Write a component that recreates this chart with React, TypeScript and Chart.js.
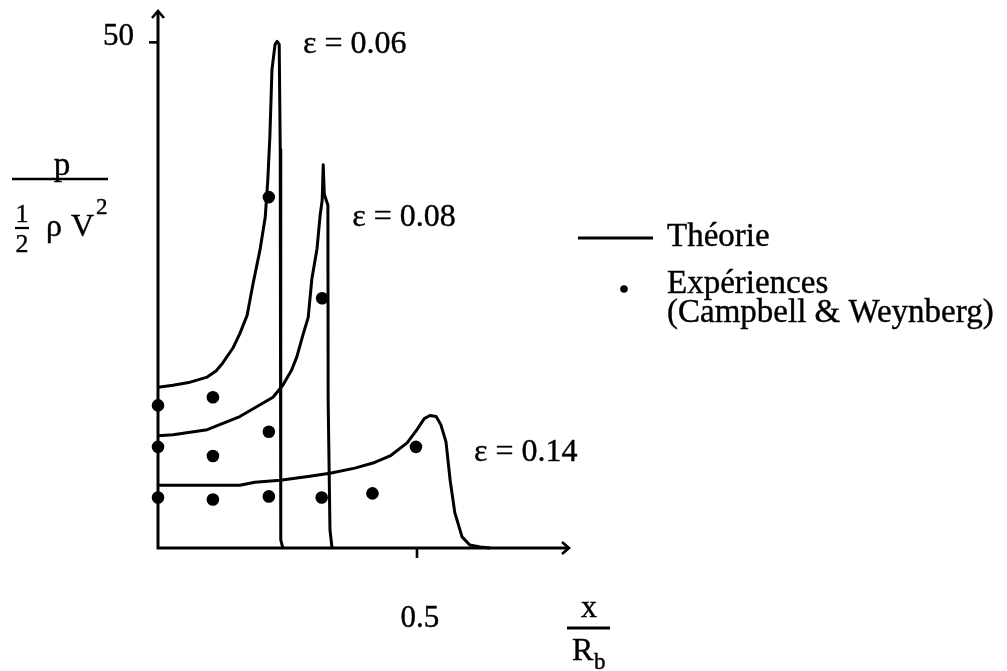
import React, { useEffect, useRef } from "react";
import { Chart, registerables } from "chart.js";

Chart.register(...registerables);

// Theory curves (x / R_b , p / (1/2 rho V^2))
const theory006X = [0, 0.029, 0.062, 0.095, 0.112, 0.125, 0.145, 0.158, 0.172, 0.183, 0.197, 0.207, 0.212, 0.216, 0.22, 0.226, 0.23, 0.234, 0.236, 0.237, 0.241];
const theory006Y = [15.9, 16.1, 16.4, 16.9, 17.5, 18.3, 19.8, 21.2, 23.0, 26.0, 29.5, 32.7, 36.4, 40.7, 47.3, 49.8, 50.1, 49.8, 39.4, 0.8, 0];

const theory008X = [0, 0.029, 0.095, 0.158, 0.222, 0.241, 0.258, 0.268, 0.28, 0.29, 0.297, 0.307, 0.313, 0.317, 0.319, 0.321, 0.328, 0.3285, 0.332, 0.336];
const theory008Y = [11.1, 11.2, 11.7, 13.0, 14.9, 16.1, 17.6, 18.9, 21.1, 22.8, 26.6, 29.6, 32.9, 34.4, 37.9, 35.0, 33.9, 14.6, 1.8, 0];

const theory014X = [0, 0.081, 0.158, 0.187, 0.236, 0.293, 0.332, 0.38, 0.415, 0.448, 0.481, 0.5, 0.514, 0.525, 0.537, 0.546, 0.556, 0.564, 0.573, 0.587, 0.602, 0.622, 0.641];
const theory014Y = [6.2, 6.2, 6.2, 6.5, 6.7, 7.1, 7.4, 7.9, 8.4, 9.1, 10.4, 11.7, 12.8, 13.1, 13.0, 12.2, 10.5, 6.7, 3.5, 1.1, 0.3, 0.1, 0];

// Experiments (Campbell & Weynberg)
const exp006X = [0, 0.106, 0.214];
const exp006Y = [14.1, 14.9, 34.7];
const exp008X = [0, 0.106, 0.214, 0.317];
const exp008Y = [10.0, 9.1, 11.5, 24.7];
const exp014X = [0, 0.106, 0.214, 0.316, 0.414, 0.498];
const exp014Y = [5.0, 4.8, 5.1, 5.0, 5.4, 10.0];

const curveLabels = ["ε = 0.06", "ε = 0.08", "ε = 0.14"];
const yTicks = [50];
const xTicks = [0.5];
const legendLabels = ["Théorie", "Expériences", "(Campbell & Weynberg)"];

const FONT = '"Liberation Serif", "Times New Roman", serif';

const zip = (xs: number[], ys: number[]) => xs.map((x, i) => ({ x, y: ys[i] }));

function txt(ctx: CanvasRenderingContext2D, s: string, x: number, y: number) {
  ctx.fillText(s, x, y);
  ctx.strokeText(s, x, y);
}

const decor = {
  id: "decor",
  afterDatasetsDraw(chart: any) {
    const { ctx, chartArea: a, scales } = chart;
    const xs = scales.x;
    const ys = scales.y;
    const x0 = xs.getPixelForValue(0);
    const y0 = ys.getPixelForValue(0);
    ctx.save();
    ctx.strokeStyle = "#000";
    ctx.fillStyle = "#000";
    ctx.lineWidth = 3;
    ctx.lineCap = "butt";
    ctx.lineJoin = "miter";

    // axes
    ctx.beginPath();
    ctx.moveTo(x0, y0 + 1.5);
    ctx.lineTo(x0, a.top + 1);
    ctx.moveTo(x0 - 1.5, y0);
    ctx.lineTo(a.right - 1, y0);
    ctx.stroke();
    // arrows
    ctx.lineWidth = 2.6;
    ctx.beginPath();
    ctx.moveTo(x0 - 6, a.top + 8);
    ctx.lineTo(x0, a.top + 1);
    ctx.lineTo(x0 + 6, a.top + 8);
    ctx.moveTo(a.right - 8, y0 - 6);
    ctx.lineTo(a.right - 1, y0);
    ctx.lineTo(a.right - 8, y0 + 6);
    ctx.stroke();

    // ticks
    ctx.lineWidth = 2.6;
    yTicks.forEach((v) => {
      const py = ys.getPixelForValue(v);
      ctx.beginPath();
      ctx.moveTo(x0 - 9, py);
      ctx.lineTo(x0, py);
      ctx.stroke();
    });
    xTicks.forEach((v) => {
      const px = xs.getPixelForValue(v);
      ctx.beginPath();
      ctx.moveTo(px, y0);
      ctx.lineTo(px, y0 + 10);
      ctx.stroke();
    });

    ctx.lineWidth = 0.4;
    ctx.textBaseline = "alphabetic";
    ctx.font = `31px ${FONT}`;
    yTicks.forEach((v) => {
      ctx.textAlign = "right";
      txt(ctx, String(v), x0 - 24, ys.getPixelForValue(v) + 3);
    });
    xTicks.forEach((v) => {
      ctx.textAlign = "center";
      txt(ctx, String(v), xs.getPixelForValue(v) + 3, y0 + 79);
    });

    // curve labels
    const labelPos = [
      [0.28, 48.9],
      [0.375, 31.8],
      [0.61, 8.6],
    ];
    ctx.textAlign = "left";
    ctx.font = `32px ${FONT}`;
    curveLabels.forEach((t, i) => {
      txt(ctx, t, xs.getPixelForValue(labelPos[i][0]), ys.getPixelForValue(labelPos[i][1]));
    });

    // y axis title: p / (1/2 rho V^2)
    ctx.lineWidth = 2.6;
    ctx.beginPath();
    ctx.moveTo(12, 179);
    ctx.lineTo(108, 179);
    ctx.stroke();
    ctx.lineWidth = 0.4;
    ctx.font = `33px ${FONT}`;
    ctx.textAlign = "center";
    txt(ctx, "p", 62, 175);
    ctx.font = `26px ${FONT}`;
    txt(ctx, "1", 22, 222);
    ctx.beginPath();
    ctx.lineWidth = 2.2;
    ctx.moveTo(15, 228);
    ctx.lineTo(29, 228);
    ctx.stroke();
    ctx.lineWidth = 0.4;
    txt(ctx, "2", 22, 252);
    ctx.textAlign = "left";
    ctx.font = `32px ${FONT}`;
    txt(ctx, "ρ", 46, 236);
    txt(ctx, "V", 71, 236);
    ctx.font = `23px ${FONT}`;
    txt(ctx, "2", 96, 214);

    // x axis title: x / R_b
    ctx.lineWidth = 3;
    ctx.beginPath();
    ctx.moveTo(567, 628);
    ctx.lineTo(610, 628);
    ctx.stroke();
    ctx.lineWidth = 0.4;
    ctx.textAlign = "center";
    ctx.font = `32px ${FONT}`;
    txt(ctx, "x", 589, 617);
    ctx.textAlign = "left";
    txt(ctx, "R", 572, 660);
    ctx.font = `23px ${FONT}`;
    txt(ctx, "b", 594, 669);

    // legend
    ctx.lineWidth = 3;
    ctx.beginPath();
    ctx.moveTo(578, 238);
    ctx.lineTo(653, 238);
    ctx.stroke();
    ctx.beginPath();
    ctx.arc(624, 289, 3.8, 0, Math.PI * 2);
    ctx.fill();
    ctx.lineWidth = 0.4;
    ctx.font = `33px ${FONT}`;
    ctx.textAlign = "left";
    txt(ctx, legendLabels[0], 667, 246);
    txt(ctx, legendLabels[1], 667, 293);
    txt(ctx, legendLabels[2], 667, 322);

    ctx.restore();
  },
};

export default function App() {
  const ref = useRef<HTMLCanvasElement | null>(null);

  useEffect(() => {
    if (!ref.current) return;
    const line = (xs: number[], ys: number[]) => ({
      type: "scatter" as const,
      data: zip(xs, ys),
      showLine: true,
      borderColor: "#000",
      borderWidth: 3,
      borderJoinStyle: "round" as const,
      pointRadius: 0,
      tension: 0,
      clip: false as any,
    });
    const dots = (xs: number[], ys: number[]) => ({
      type: "scatter" as const,
      data: zip(xs, ys),
      showLine: false,
      backgroundColor: "#000",
      borderColor: "#000",
      pointRadius: 6.3,
      borderWidth: 0,
      clip: false as any,
    });
    const chart = new Chart(ref.current, {
      type: "scatter",
      data: {
        datasets: [
          line(theory006X, theory006Y),
          line(theory008X, theory008Y),
          line(theory014X, theory014Y),
          dots(exp006X, exp006Y),
          dots(exp008X, exp008Y),
          dots(exp014X, exp014Y),
        ] as any,
      },
      options: {
        responsive: false,
        animation: false,
        layout: { padding: { left: 158, right: 437, top: 10, bottom: 123 } },
        plugins: { legend: { display: false }, tooltip: { enabled: false } },
        scales: {
          x: { type: "linear", min: 0, max: 0.7954, display: false },
          y: { type: "linear", min: 0, max: 53.2, display: false },
        },
      },
      plugins: [decor],
    });
    return () => chart.destroy();
  }, []);

  return (
    <div style={{ position: "fixed", left: 0, top: 0, width: 1007, height: 671, background: "#fff" }}>
      <canvas ref={ref} width={1007} height={671} style={{ display: "block" }} />
    </div>
  );
}
